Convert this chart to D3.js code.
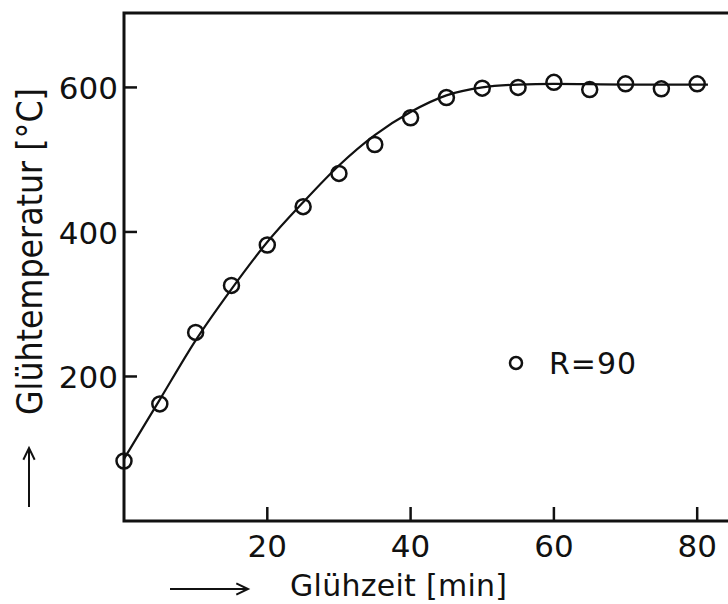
<!DOCTYPE html>
<html>
<head>
<meta charset="utf-8">
<script src="https://cdn.jsdelivr.net/npm/d3@7"></script>
<style>
  body { margin: 0; background: #fff; }
  svg { display: block; }
</style>
</head>
<body>
<svg id="chart" width="728" height="604"></svg>
<script>
// measured points (Glühzeit in min, Glühtemperatur in °C)
const times = [0, 5, 10, 15, 20, 25, 30, 35, 40, 45, 50, 55, 60, 65, 70, 75, 80]
const temps = [83, 162, 261, 326, 382, 435, 481, 521, 558, 586, 599, 600, 607, 597, 605, 598, 605]

// fitted curve
const curveTimes = [0, 5, 10, 15, 20, 25, 30, 35, 40, 45, 50, 55, 60, 70, 81.5]
const curveTemps = [86, 168, 250, 321, 386, 441, 492, 534, 566, 589, 600, 604, 605, 604, 604]

const xTicks = [20, 40, 60, 80]
const yTicks = [200, 400, 600]
const legendLabel = 'R=90'

const width = 728
const height = 604
const margin = { top: 13, right: 0, bottom: 85, left: 124 }

const svg = d3.select('#chart')
const font = "'DejaVu Sans', sans-serif"

const x = d3.scaleLinear().domain([0, 84.3]).range([margin.left, width - margin.right])
const y = d3.scaleLinear().domain([0, 703]).range([height - margin.bottom + 2, margin.top])

const bottom = y(0)

// frame: left, top, bottom (right side runs off the picture)
svg.append('path')
  .attr('d', `M${width},${margin.top}H${margin.left}V${bottom}H${width}`)
  .attr('fill', 'none')
  .attr('stroke', '#111')
  .attr('stroke-width', 3)

// ticks pointing inward
svg.append('g')
  .selectAll('line')
  .data(yTicks)
  .join('line')
  .attr('x1', margin.left)
  .attr('x2', margin.left + 13)
  .attr('y1', (d) => y(d))
  .attr('y2', (d) => y(d))
  .attr('stroke', '#111')
  .attr('stroke-width', 2.5)

svg.append('g')
  .selectAll('line')
  .data(xTicks)
  .join('line')
  .attr('x1', (d) => x(d))
  .attr('x2', (d) => x(d))
  .attr('y1', bottom)
  .attr('y2', bottom - 14)
  .attr('stroke', '#111')
  .attr('stroke-width', 2.5)

// tick labels
svg.append('g')
  .attr('font-family', font)
  .attr('font-size', 31)
  .attr('fill', '#111')
  .selectAll('text')
  .data(yTicks)
  .join('text')
  .attr('x', margin.left - 6)
  .attr('y', (d) => y(d) + 12)
  .attr('text-anchor', 'end')
  .text((d) => d)

svg.append('g')
  .attr('font-family', font)
  .attr('font-size', 31)
  .attr('fill', '#111')
  .selectAll('text')
  .data(xTicks)
  .join('text')
  .attr('x', (d) => x(d))
  .attr('y', 557)
  .attr('text-anchor', 'middle')
  .text((d) => d)

// fitted curve
svg.append('path')
  .datum(curveTimes.map((t, i) => [t, curveTemps[i]]))
  .attr('d', d3.line().x((d) => x(d[0])).y((d) => y(d[1])).curve(d3.curveMonotoneX))
  .attr('fill', 'none')
  .attr('stroke', '#111')
  .attr('stroke-width', 2.2)

// measured points
svg.append('g')
  .selectAll('circle')
  .data(times.map((t, i) => [t, temps[i]]))
  .join('circle')
  .attr('cx', (d) => x(d[0]))
  .attr('cy', (d) => y(d[1]))
  .attr('r', 7.5)
  .attr('fill', 'none')
  .attr('stroke', '#111')
  .attr('stroke-width', 2.5)

// legend
svg.append('circle')
  .attr('cx', 516)
  .attr('cy', 363)
  .attr('r', 6)
  .attr('fill', 'none')
  .attr('stroke', '#111')
  .attr('stroke-width', 2.5)

svg.append('text')
  .attr('x', 549)
  .attr('y', 374)
  .attr('font-family', font)
  .attr('font-size', 30)
  .attr('fill', '#111')
  .attr('letter-spacing', 1)
  .text(legendLabel)

// axis titles with arrows
svg.append('text')
  .attr('transform', 'translate(42,251.5) rotate(-90)')
  .attr('text-anchor', 'middle')
  .attr('font-family', font)
  .attr('font-size', 35)
  .attr('fill', '#111')
  .attr('textLength', 327)
  .attr('lengthAdjust', 'spacingAndGlyphs')
  .text('Glühtemperatur [°C]')

svg.append('text')
  .attr('x', 290)
  .attr('y', 596)
  .attr('font-family', font)
  .attr('font-size', 30)
  .attr('fill', '#111')
  .attr('textLength', 217)
  .text('Glühzeit [min]')

const arrow = (x1, y1, x2, y2) => {
  const g = svg.append('g').attr('stroke', '#111').attr('stroke-width', 2).attr('fill', 'none')
  g.append('line').attr('x1', x1).attr('y1', y1).attr('x2', x2).attr('y2', y2)
  const a = Math.atan2(y2 - y1, x2 - x1)
  const len = 13
  const spread = 0.45
  g.append('path').attr('d',
    `M${x2 - len * Math.cos(a - spread)},${y2 - len * Math.sin(a - spread)}L${x2},${y2}L${x2 - len * Math.cos(a + spread)},${y2 - len * Math.sin(a + spread)}`)
}
arrow(29, 507, 29, 448)
arrow(170, 589, 248, 589)
</script>
</body>
</html>
